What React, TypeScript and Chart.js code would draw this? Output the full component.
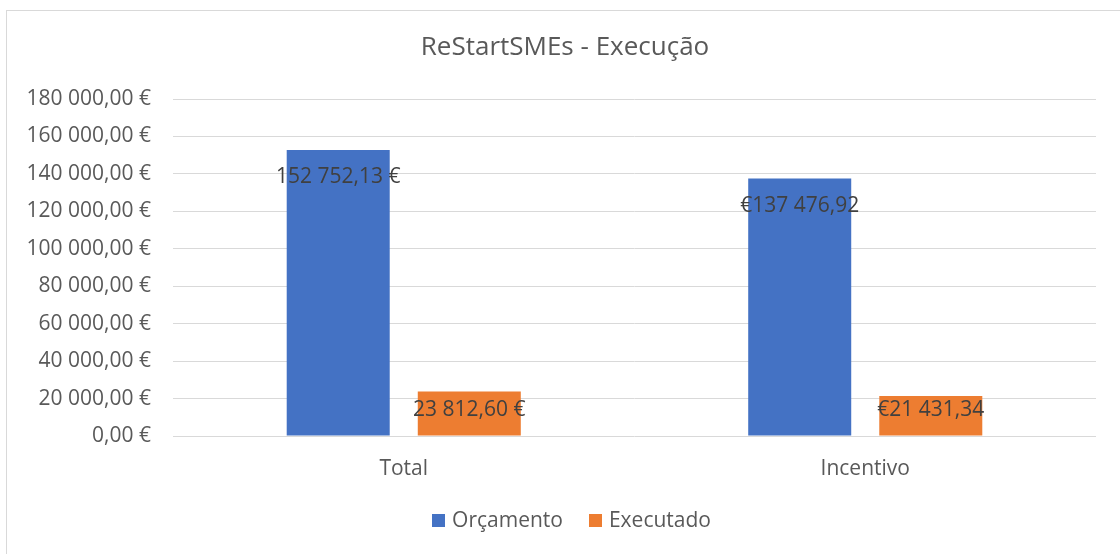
import React, { useEffect, useRef } from "react";
import { Chart, registerables } from "chart.js";

Chart.register(...registerables);

const chartTitle = "ReStartSMEs - Execução";
const categories = ["Total", "Incentivo"];
const seriesNames = ["Orçamento", "Executado"];
const orcamentoValues = [152752.13, 137476.92];
const executadoValues = [23812.6, 21431.34];
const orcamentoLabels = ["152 752,13 €", "€137 476,92"];
const executadoLabels = ["23 812,60 €", "€21 431,34"];
const seriesColors = ["#4472C4", "#ED7D31"];
const yMin = 0;
const yMax = 180000;
const yStep = 20000;

const FONT = "'Open Sans', 'Noto Sans', sans-serif";
const TEXT = "#595959";
const GRID = "#d9d9d9";

function formatTick(v: number): string {
  const fixed = v.toFixed(2);
  const [intPart, dec] = fixed.split(".");
  const grouped = intPart.replace(/\B(?=(\d{3})+(?!\d))/g, " ");
  return `${grouped},${dec} €`;
}

const decorPlugin = {
  id: "decor",
  beforeDraw(chart: any) {
    const ctx = chart.ctx;
    ctx.save();
    ctx.strokeStyle = GRID;
    ctx.lineWidth = 1;
    ctx.strokeRect(6.5, 10.5, 3000, 3000);
    ctx.restore();
  },
  afterDraw(chart: any) {
    const ctx = chart.ctx;
    ctx.save();
    // title
    ctx.fillStyle = TEXT;
    ctx.font = `26px ${FONT}`;
    ctx.textAlign = "center";
    ctx.textBaseline = "middle";
    ctx.fillText(chartTitle, 565, 48);
    // legend
    ctx.font = `21px ${FONT}`;
    const box = 13;
    const gap = 7;
    const spacing = 26;
    const widths = seriesNames.map((n) => ctx.measureText(n).width);
    const total = widths.reduce((a, w) => a + box + gap + w, 0) + spacing * (seriesNames.length - 1);
    let x = 571.5 - total / 2;
    const cy = 521;
    ctx.textAlign = "left";
    seriesNames.forEach((n, i) => {
      ctx.fillStyle = seriesColors[i];
      ctx.fillRect(Math.round(x), cy - 7, box, box);
      ctx.fillStyle = TEXT;
      ctx.fillText(n, x + box + gap, cy);
      x += box + gap + widths[i] + spacing;
    });
    ctx.restore();
  },
  afterDatasetsDraw(chart: any) {
    const ctx = chart.ctx;
    const labelSets = [orcamentoLabels, executadoLabels];
    ctx.save();
    ctx.font = `21px ${FONT}`;
    ctx.fillStyle = "#404040";
    ctx.textAlign = "center";
    ctx.textBaseline = "middle";
    chart.data.datasets.forEach((_: any, di: number) => {
      const meta = chart.getDatasetMeta(di);
      meta.data.forEach((el: any, i: number) => {
        const y = Math.min(el.y + 27, el.base - 25);
        ctx.fillText(labelSets[di][i], el.x, y);
      });
    });
    ctx.restore();
  },
};

export default function App() {
  const ref = useRef<HTMLCanvasElement | null>(null);
  useEffect(() => {
    document.body.style.margin = "0";
    if (!ref.current) return;
    const chart = new Chart(ref.current, {
      type: "bar",
      data: {
        labels: categories,
        datasets: [
          {
            label: seriesNames[0],
            data: orcamentoValues,
            backgroundColor: seriesColors[0],
            categoryPercentage: 0.568,
            barPercentage: 0.786,
          },
          {
            label: seriesNames[1],
            data: executadoValues,
            backgroundColor: seriesColors[1],
            categoryPercentage: 0.568,
            barPercentage: 0.786,
          },
        ],
      },
      options: {
        animation: false,
        responsive: false,
        maintainAspectRatio: false,
        layout: { padding: { left: 0, right: 24, top: 99, bottom: 58 } },
        plugins: {
          legend: { display: false },
          title: { display: false },
          tooltip: { enabled: false },
        },
        scales: {
          x: {
            grid: { display: false },
            border: { display: false },
            ticks: { color: TEXT, font: { family: FONT, size: 21 }, padding: 12 },
            afterFit: (s: any) => {
              s.height = 60;
            },
          },
          y: {
            min: yMin,
            max: yMax,
            grid: { color: GRID, lineWidth: 1, drawTicks: false },
            border: { display: false },
            ticks: {
              stepSize: yStep,
              color: TEXT,
              font: { family: FONT, size: 21 },
              padding: 22,
              callback: (v: any) => formatTick(Number(v)),
            },
            afterFit: (s: any) => {
              s.width = 173;
            },
          },
        },
      },
      plugins: [decorPlugin],
    });
    return () => chart.destroy();
  }, []);
  return (
    <div style={{ width: 1120, height: 554, background: "#fff" }}>
      <canvas ref={ref} width={1120} height={554} style={{ display: "block" }} />
    </div>
  );
}
